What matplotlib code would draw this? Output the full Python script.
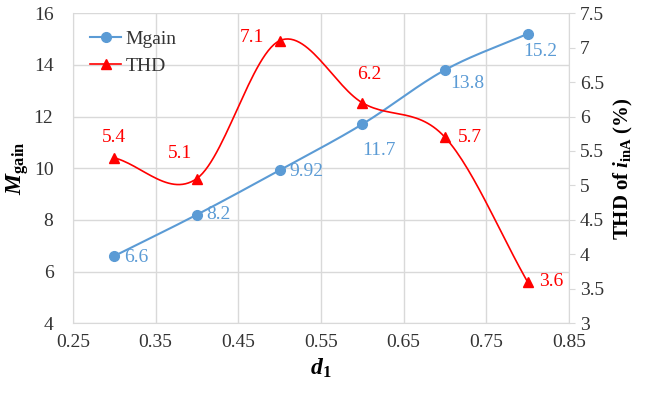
import matplotlib.pyplot as plt
import numpy as np

plt.rcParams['font.family'] = ['Liberation Serif', 'DejaVu Serif']
plt.rcParams['mathtext.fontset'] = 'custom'
plt.rcParams['mathtext.rm'] = 'Liberation Serif'
plt.rcParams['mathtext.bf'] = 'Liberation Serif:bold'
plt.rcParams['mathtext.it'] = 'Liberation Serif:italic'
plt.rcParams['mathtext.bfit'] = 'Liberation Serif:italic:bold'

d1 = [0.3, 0.4, 0.5, 0.6, 0.7, 0.8]
mgain = [6.6, 8.2, 9.92, 11.7, 13.8, 15.2]
thd = [5.4, 5.1, 7.1, 6.2, 5.7, 3.6]
mgain_labels = ['6.6', '8.2', '9.92', '11.7', '13.8', '15.2']
thd_labels = ['5.4', '5.1', '7.1', '6.2', '5.7', '3.6']

blue = '#5B9BD5'
red = '#FF0000'


# smooth line like the spreadsheet one (Catmull-Rom through the points)
def smooth(x, y, n=30):
    x = np.asarray(x, float)
    y = np.asarray(y, float)
    px = np.concatenate([[2 * x[0] - x[1]], x, [2 * x[-1] - x[-2]]])
    py = np.concatenate([[2 * y[0] - y[1]], y, [2 * y[-1] - y[-2]]])
    xs, ys = [], []
    t = np.linspace(0, 1, n)
    for i in range(1, len(px) - 2):
        for p, out in ((px, xs), (py, ys)):
            p0, p1, p2, p3 = p[i - 1], p[i], p[i + 1], p[i + 2]
            out.extend(0.5 * (2 * p1 + (-p0 + p2) * t
                              + (2 * p0 - 5 * p1 + 4 * p2 - p3) * t ** 2
                              + (-p0 + 3 * p1 - 3 * p2 + p3) * t ** 3))
    return xs, ys


fig = plt.figure(figsize=(6.45, 3.99), dpi=100)
ax = fig.add_axes([0.113, 0.19, 0.769, 0.777])
ax2 = ax.twinx()

sx, sy = smooth(d1, mgain)
ax.plot(sx, sy, color=blue, lw=1.5, zorder=3)
ax.plot(d1, mgain, 'o', color=blue, ms=7, zorder=4)
tx, ty = smooth(d1, thd)
ax2.plot(tx, ty, color=red, lw=1.2, zorder=3)
ax2.plot(d1, thd, '^', color=red, ms=7, zorder=4)

# legend handles
ax.plot([], [], '-o', color=blue, lw=1.5, ms=7, label='Mgain')
ax.plot([], [], '-^', color=red, lw=1.2, ms=7, label='THD')
leg = ax.legend(loc='upper left', frameon=False, fontsize=14, handlelength=1.6,
                handletextpad=0.2, borderaxespad=0.5, labelspacing=0.45)
for t in leg.get_texts():
    t.set_color('#333333')

m_off = [(7, -1), (7, 0), (7, -1), (12, -19), (4, -10), (9, -13)]
m_ha = ['left', 'left', 'left', 'center', 'left', 'center']
for x, y, s, o, h in zip(d1, mgain, mgain_labels, m_off, m_ha):
    ax.annotate(s, (x, y), xytext=o, textcoords='offset points', ha=h,
                va='center', color=blue, fontsize=14)

t_off = [(0, 15), (-12, 18), (-11, 2), (5, 20), (9, 0), (8, 0)]
t_ha = ['center', 'center', 'right', 'center', 'left', 'left']
for x, y, s, o, h in zip(d1, thd, thd_labels, t_off, t_ha):
    ax2.annotate(s, (x, y), xytext=o, textcoords='offset points', ha=h,
                 va='center', color=red, fontsize=14)

ax.set_xlim(0.25, 0.85)
ax.set_xticks(np.arange(0.25, 0.86, 0.1))
ax.set_xticklabels(['0.25', '0.35', '0.45', '0.55', '0.65', '0.75', '0.85'])
ax.set_ylim(4, 16)
ax.set_yticks(range(4, 17, 2))
ax2.set_ylim(3, 7.5)
ax2.set_yticks(np.arange(3, 7.6, 0.5))
ax2.set_yticklabels(['3', '3.5', '4', '4.5', '5', '5.5', '6', '6.5', '7', '7.5'])

ax.grid(True, color='#D9D9D9', lw=1)
ax.set_axisbelow(True)
for a in (ax, ax2):
    for sp in a.spines.values():
        sp.set_visible(False)
    a.tick_params(labelsize=14, colors='#333333')
ax.tick_params(axis='both', length=0, pad=8)
ax.tick_params(axis='y', pad=14)
ax2.spines['right'].set_visible(True)
ax2.spines['right'].set_color('#D9D9D9')
ax2.tick_params(axis='y', length=4, color='#D9D9D9', pad=4)
for s in ('bottom', 'left'):
    ax.spines[s].set_visible(True)
    ax.spines[s].set_color('#D9D9D9')

ax.set_xlabel(r'$\mathbfit{d}_{\mathbf{1}}$', fontsize=17, labelpad=4)
ax.set_ylabel(r'$\mathbfit{M}_{\mathbf{gain}}$', fontsize=17, labelpad=2)
ax2.set_ylabel(r'$\mathbf{THD\ of\ }\mathbfit{i}_{\mathbf{inA}}\mathbf{\ (\%)}$',
               fontsize=15, labelpad=6)

fig.savefig('out.png', dpi=100)
